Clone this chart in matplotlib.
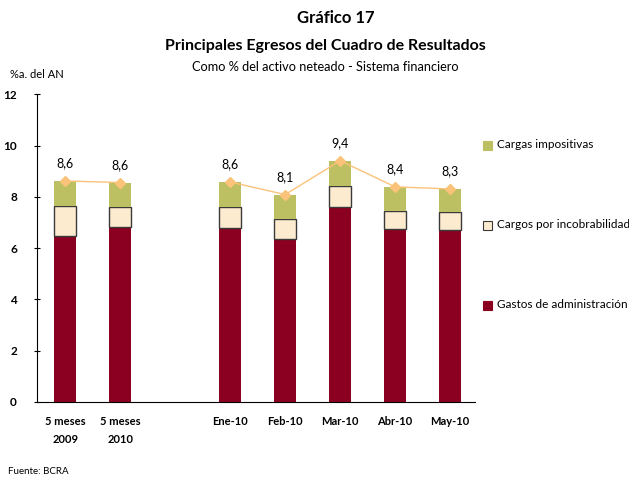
import numpy as np
import matplotlib
matplotlib.use("Agg")
import matplotlib.pyplot as plt
from matplotlib.patches import Rectangle

plt.rcParams['font.family'] = ['Lato', 'DejaVu Sans']

categories = ["5 meses\n2009", "5 meses\n2010", "Ene-10", "Feb-10", "Mar-10", "Abr-10", "May-10"]
positions = [0, 1, 3, 4, 5, 6, 7]
gastos_admin = [6.47, 6.84, 6.77, 6.34, 7.60, 6.75, 6.70]
cargos_incob = [1.19, 0.76, 0.82, 0.80, 0.84, 0.71, 0.70]
cargas_impos = [0.96, 0.96, 0.99, 0.95, 0.97, 0.93, 0.91]

red = '#8B0021'
cream = '#FDEBD0'
green = '#BDBF63'
orange = '#FBC27A'

admin = np.array(gastos_admin)
incob = np.array(cargos_incob)
impos = np.array(cargas_impos)
total = admin + incob + impos
pos = np.array(positions)

fig = plt.figure(figsize=(6.29, 4.79), dpi=100)
ax = fig.add_axes([0.059, 0.161, 0.696, 0.642])

w = 0.4
ax.bar(pos, admin, width=w, color=red, zorder=2)
ax.bar(pos, incob, width=w, bottom=admin, color=cream,
       edgecolor='#3a3a3a', linewidth=1.0, zorder=2)
ax.bar(pos, impos, width=w, bottom=admin + incob, color=green, zorder=2)

# total line: period averages and monthly values drawn as separate segments
for seg in (slice(0, 2), slice(2, None)):
    ax.plot(pos[seg], total[seg], color=orange, lw=1.0, marker='D', ms=5.5,
            mfc=orange, mec=orange, zorder=3)

for x, t in zip(pos, total):
    ax.text(x, t + 0.45, f"{t:.1f}".replace('.', ','), ha='center', va='bottom',
            fontsize=9)

ax.set_xlim(-0.51, 7.45)
ax.set_ylim(0, 12)
ax.set_yticks(range(0, 13, 2))
ax.set_xticks(pos)
ax.set_xticklabels(categories, fontweight='bold', fontsize=8, linespacing=1.8)
for lab in ax.get_yticklabels():
    lab.set_fontweight('bold')
    lab.set_fontsize(8.5)
ax.tick_params(axis='y', direction='inout', length=5, width=0.8, pad=12)
ax.tick_params(axis='x', length=0, pad=10)
for s in ['top', 'right']:
    ax.spines[s].set_visible(False)
ax.spines['left'].set_linewidth(0.8)
ax.spines['bottom'].set_linewidth(0.8)

# legend on the right
leg = [(green, 'Cargas impositivas', 145, None),
       (cream, 'Cargos por incobrabilidad', 225, '#3a3a3a'),
       (red, 'Gastos de administración', 305, None)]
for col, txt, ypix, ec in leg:
    yf = 1 - ypix / 479
    fig.patches.append(Rectangle((483 / 629, yf - 4.5 / 479), 9 / 629, 9 / 479,
                                 transform=fig.transFigure, facecolor=col,
                                 edgecolor=ec if ec else col, linewidth=0.8))
    fig.text(497 / 629, yf, txt, fontsize=8.5, va='center', ha='left')

fig.text(336 / 629, 1 - 18 / 479, 'Gráfico 17', ha='center', va='center',
         fontsize=12, fontweight='bold')
fig.text(325 / 629, 1 - 46 / 479, 'Principales Egresos del Cuadro de Resultados',
         ha='center', va='center', fontsize=11.5, fontweight='bold')
fig.text(325 / 629, 1 - 67 / 479, 'Como % del activo neteado - Sistema financiero',
         ha='center', va='center', fontsize=9.2)
fig.text(10 / 629, 1 - 75 / 479, '%a. del AN', ha='left', va='center', fontsize=8)
fig.text(8 / 629, 1 - 471 / 479, 'Fuente: BCRA', ha='left', va='center', fontsize=7)

fig.savefig('out.png', dpi=100)
